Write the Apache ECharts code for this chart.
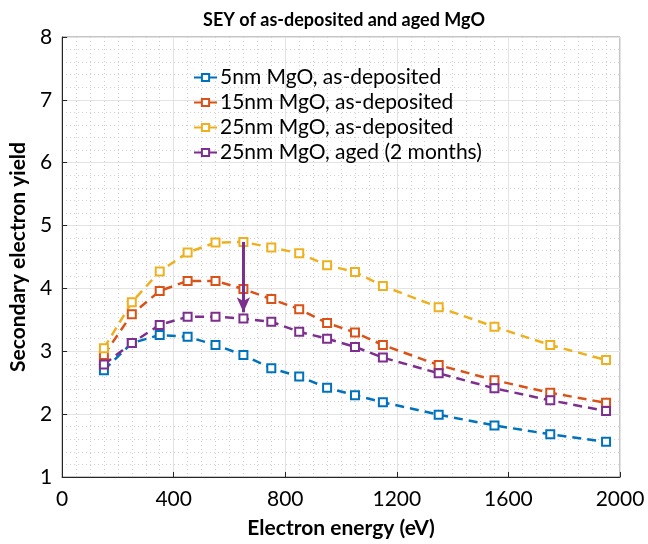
<!DOCTYPE html>
<html>
<head>
<meta charset="utf-8">
<script src="https://cdn.jsdelivr.net/npm/echarts@6/dist/echarts.min.js"></script>
<style>
  html, body { margin: 0; padding: 0; background: #fff; }
  #chart { width: 648px; height: 544px; }
</style>
</head>
<body>
<div id="chart"></div>
<script>
// Electron energies (eV)
const energy = [150, 250, 350, 450, 550, 650, 750, 850, 950, 1050, 1150, 1350, 1550, 1750, 1950];

// Secondary electron yield per sample
const mgo5nm   = [2.70, 3.13, 3.26, 3.23, 3.10, 2.94, 2.73, 2.60, 2.42, 2.30, 2.19, 1.99, 1.82, 1.68, 1.56];
const mgo15nm  = [2.94, 3.59, 3.96, 4.12, 4.12, 3.99, 3.83, 3.67, 3.45, 3.30, 3.10, 2.78, 2.54, 2.34, 2.18];
const mgo25nm  = [3.05, 3.78, 4.27, 4.57, 4.73, 4.74, 4.65, 4.56, 4.37, 4.26, 4.04, 3.70, 3.39, 3.10, 2.86];
const mgo25Aged = [2.79, 3.13, 3.42, 3.55, 3.55, 3.52, 3.47, 3.31, 3.20, 3.07, 2.90, 2.65, 2.41, 2.22, 2.05];

const seriesNames = [
  '5nm MgO, as-deposited',
  '15nm MgO, as-deposited',
  '25nm MgO, as-deposited',
  '25nm MgO, aged (2 months)'
];
const seriesColors = ['#0072BD', '#D95319', '#EDB120', '#7E2F8E'];

// Ageing arrow: from the as-deposited 25nm peak down toward the aged curve
const arrowEnergy = 650;
const arrowFrom = 4.74;
const arrowTo = 3.62;

// Axis ticks
const xTicks = [0, 400, 800, 1200, 1600, 2000];
const yTicks = [1, 2, 3, 4, 5, 6, 7, 8];

const FONT = 'Lato';

function makeSeries(name, values, color, extra) {
  return Object.assign({
    name: name,
    type: 'line',
    data: energy.map((e, i) => [e, values[i]]),
    symbol: 'emptyRect',
    symbolSize: 8,
    itemStyle: { color: color, borderColor: color, borderWidth: 2 },
    lineStyle: { color: color, width: 2.5, type: [9, 6] },
    emphasis: { disabled: true },
    animation: false
  }, extra || {});
}

const chart = echarts.init(document.getElementById('chart'), null, { renderer: 'canvas' });

chart.setOption({
  animation: false,
  backgroundColor: '#ffffff',
  title: {
    text: 'SEY of as-deposited and aged MgO',
    left: 339, top: 6, textAlign: 'center',
    textStyle: { fontFamily: FONT, fontWeight: 'bold', fontSize: 18, color: '#000' }
  },
  grid: {
    left: 57, right: 28, top: 37, bottom: 67,
    show: true, borderColor: '#8c8c8c', borderWidth: 1, backgroundColor: 'transparent'
  },
  legend: {
    orient: 'vertical',
    left: 188, top: 62,
    itemWidth: 23, itemHeight: 9, itemGap: 4,
    data: seriesNames,
    textStyle: { fontFamily: FONT, fontSize: 21, color: '#000', lineHeight: 20, padding: [0, 0, 0, -2] }
  },
  xAxis: {
    type: 'value',
    min: xTicks[0], max: xTicks[xTicks.length - 1], interval: 400,
    name: 'Electron energy (eV)',
    nameLocation: 'middle', nameGap: 41,
    nameTextStyle: { fontFamily: FONT, fontWeight: 'bold', fontSize: 21, color: '#000' },
    axisLine: { show: true, onZero: false, lineStyle: { color: '#262626', width: 1 } },
    axisTick: { show: true, inside: true, length: 5, lineStyle: { color: '#262626' } },
    minorTick: { show: false, splitNumber: 8 },
    axisLabel: { fontFamily: FONT, fontSize: 21, color: '#000', margin: 12, formatter: v => String(v) },
    splitLine: { show: true, lineStyle: { color: '#e3e3e3', width: 1 } },
    minorSplitLine: { show: true, lineStyle: { color: '#cfcfcf', width: 1, type: [1, 3] } }
  },
  yAxis: {
    type: 'value',
    min: yTicks[0], max: yTicks[yTicks.length - 1], interval: 1,
    name: 'Secondary electron yield',
    nameLocation: 'middle', nameGap: 25,
    nameTextStyle: { fontFamily: FONT, fontWeight: 'bold', fontSize: 21, color: '#000' },
    axisLine: { show: true, onZero: false, lineStyle: { color: '#262626', width: 1 } },
    axisTick: { show: true, inside: true, length: 5, lineStyle: { color: '#262626' } },
    minorTick: { show: false, splitNumber: 5 },
    axisLabel: { fontFamily: FONT, fontSize: 21, color: '#000', margin: 10, formatter: v => String(v) },
    splitLine: { show: true, lineStyle: { color: '#e3e3e3', width: 1 } },
    minorSplitLine: { show: true, lineStyle: { color: '#cfcfcf', width: 1, type: [1, 3] } }
  },
  series: [
    makeSeries(seriesNames[0], mgo5nm, seriesColors[0]),
    makeSeries(seriesNames[1], mgo15nm, seriesColors[1]),
    makeSeries(seriesNames[2], mgo25nm, seriesColors[2]),
    makeSeries(seriesNames[3], mgo25Aged, seriesColors[3], {
      markLine: {
        silent: true,
        symbol: ['none', 'arrow'],
        symbolSize: [10, 15],
        label: { show: false },
        lineStyle: { color: seriesColors[3], width: 3, type: 'solid' },
        data: [[
          { coord: [arrowEnergy, arrowFrom] },
          { coord: [arrowEnergy, arrowTo] }
        ]],
        animation: false
      }
    })
  ]
});
</script>
</body>
</html>
